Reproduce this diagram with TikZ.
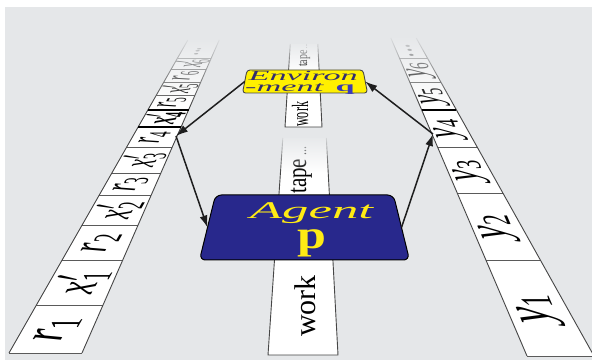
\documentclass[tikz,border=0pt]{standalone}
\usepackage{fontspec}
\setmainfont{Liberation Serif}
\usepackage{graphicx}
\usetikzlibrary{arrows.meta,fadings}
\definecolor{bggrey}{RGB}{229,231,233}
\definecolor{envyellow}{RGB}{255,240,0}
\definecolor{agentblue}{RGB}{40,40,140}
\definecolor{agentyellow}{RGB}{255,235,20}
\definecolor{envtextcol}{RGB}{50,45,110}
\definecolor{qblue}{RGB}{60,60,180}
\definecolor{edgegrey}{RGB}{70,70,70}
\definecolor{divgrey}{RGB}{90,90,90}
\definecolor{arrowgrey}{RGB}{30,30,30}
\tikzfading[name=fadetop, top color=transparent!0, bottom color=transparent!100]
\newcommand\tapeR[1]{\textit{r}\textsubscript{#1}}
\newcommand\tapeX[1]{\textit{x}\rlap{$^{\prime}$}\textsubscript{#1}}
\newcommand\tapeY[1]{\textit{y}\textsubscript{#1}}
\begin{document}
\begin{tikzpicture}[x=1pt,y=-1pt,
  declare function={LL(\v)=9+(353-\v)*0.5714; LR(\v)=82+(353-\v)*0.4383;
    RL(\v)=527-(356-\v)*0.4281; RR(\v)=594-(356-\v)*0.5591;
    ML(\v)=268+(355-\v)*0.0683; MR(\v)=338-(355-\v)*0.0537;
    UL(\v)=285+(127-\v)*0.0633; UR(\v)=322-(127-\v)*0.0506;},
  tapeedge/.style={draw=edgegrey, line width=0.9pt},
  tapediv/.style={draw=divgrey, line width=0.8pt},
  hicell/.style={draw=black, line width=1.5pt},
  lbl/.style={inner sep=0pt, font=\fontsize{10}{12}\selectfont},
  fadeover/.style={fill=bggrey, path fading=fadetop},
  arr/.style={draw=arrowgrey, line width=1.5pt, -{Latex[length=12pt,width=8pt]}},
  boxnode/.style={inner sep=0pt, outer sep=0pt},
  envbox/.style={fill=envyellow, draw=edgegrey, line width=0.9pt, rounded corners=3pt},
  agentbox/.style={fill=agentblue, draw=black, line width=1pt, rounded corners=6pt},
  worktext/.style={inner sep=0pt, anchor=base west, rotate=90}]

\useasboundingbox (0,0) rectangle (592,363);
\clip (0,0) rectangle (592,363);
\fill[white] (0,0) rectangle (592,363);
\fill[bggrey] (5,7) rectangle (592,360);

% ---------- left tape (percepts) ----------
\fill[white] ({LL(353)},353) -- ({LR(353)},353) -- ({LR(40)},40) -- ({LL(40)},40) -- cycle;
\foreach \v in {353,305,260,225,195,173,147,127,110,95,82,69,58}
  \draw[tapediv] ({LL(\v)},\v) -- ({LR(\v)},\v);
\draw[tapeedge] ({LL(40)},40) -- ({LL(353)},353);
\draw[tapeedge] ({LR(40)},40) -- ({LR(353)},353);
\draw[hicell] ({LL(127)},127) -- ({LR(127)},127) ({LL(110)},110) -- ({LR(110)},110);
\foreach \ya/\yb/\lab in {353/305/{\tapeR{1}}, 305/260/{\tapeX{1}}, 260/225/{\tapeR{2}},
    225/195/{\tapeX{2}}, 195/173/{\tapeR{3}}, 173/147/{\tapeX{3}}, 147/127/{\tapeR{4}},
    127/110/{\bfseries\tapeX{4}}, 110/95/{\tapeR{5}}, 95/82/{\tapeX{5}}, 82/69/{\tapeR{6}},
    69/58/{\tapeX{6}}, 58/45/{...}}{
  \pgfmathsetmacro\yc{(\ya+\yb)/2}
  \pgfmathsetmacro\xc{(LL(\yc)+LR(\yc))/2}
  \pgfmathsetmacro\sf{(\yc+180)/509}
  \pgfmathsetmacro\sa{3.7*\sf^1.5}
  \pgfmathsetmacro\ca{\sa*0.496}
  \pgfmathsetmacro\cb{\sa*0.868}
  \pgfmathsetmacro\cc{-6.2*\sf^0.7}
  \node[lbl, cm={\ca,\cb,\cc,0,(0,0)}] at (\xc,\yc) {\lab};
}

% ---------- right tape (actions) ----------
\fill[white] ({RL(356)},356) -- ({RR(356)},356) -- ({RR(38)},38) -- ({RL(38)},38) -- cycle;
\foreach \v in {356,260,193,147,110,82,58}
  \draw[tapediv] ({RL(\v)},\v) -- ({RR(\v)},\v);
\draw[tapeedge] ({RL(38)},38) -- ({RL(356)},356);
\draw[tapeedge] ({RR(38)},38) -- ({RR(356)},356);
\draw[hicell] ({RL(110)},110) -- ({RR(110)},110);
\foreach \ya/\yb/\lab in {356/260/{\tapeY{1}}, 260/193/{\tapeY{2}}, 193/147/{\tapeY{3}},
    147/110/{\tapeY{4}}, 110/82/{\tapeY{5}}, 82/58/{\tapeY{6}}, 58/43/{...}}{
  \pgfmathsetmacro\yc{(\ya+\yb)/2}
  \pgfmathsetmacro\xc{(RL(\yc)+RR(\yc))/2}
  \pgfmathsetmacro\sf{(\yc+180)/488}
  \pgfmathsetmacro\sa{4.0*\sf}
  \pgfmathsetmacro\ca{-\sa*0.394}
  \pgfmathsetmacro\cb{\sa*0.919}
  \pgfmathsetmacro\cc{-6.2*\sf^0.7}
  \node[lbl, cm={\ca,\cb,\cc,0,(0,0)}] at (\xc,\yc) {\lab};
}

% ---------- middle work tapes ----------
\fill[white] ({ML(355)},355) -- ({MR(355)},355) -- ({MR(138)},138) -- ({ML(138)},138) -- cycle;
\draw[tapeedge] ({ML(138)},138) -- ({ML(355)},355) -- ({MR(355)},355) -- ({MR(138)},138);
\node[worktext] (wlow) at (315,337) {\fontsize{30}{30}\selectfont work};
\node[worktext] (tlow) at (306,194) {\scalebox{1}[1.3]{\fontsize{21}{21}\selectfont tape\,{\fontsize{12}{12}\selectfont...}}};

\fill[white] ({UL(127)},127) -- ({UR(127)},127) -- ({UR(44)},44) -- ({UL(44)},44) -- cycle;
\draw[tapeedge] ({UL(44)},44) -- ({UL(127)},127) -- ({UR(127)},127) -- ({UR(44)},44);
\node[worktext] (wup) at (308,127) {\scalebox{0.87}[1.67]{\fontsize{14}{14}\selectfont work}};
\node[worktext] (tup) at (307,67) {\scalebox{1}[1.45]{\fontsize{10}{10}\selectfont tape\,{\fontsize{6}{6}\selectfont...}}};

% ---------- fading of far ends ----------
\fill[fadeover] (150,36) rectangle (240,104);
\fill[fadeover] (375,34) rectangle (470,104);
\fill[fadeover] (280,40) rectangle (330,72);
\fill[fadeover] (270,134) rectangle (335,172);

% ---------- boxes ----------
\node[boxnode, minimum width=120.5, minimum height=23] (env) at (305,81.5) {};
\draw[envbox] ([xshift=2.25]env.north west) -- ([xshift=-2.25]env.north east)
  -- ([xshift=2.25]env.south east) -- ([xshift=-2.25]env.south west) -- cycle;
\node[inner sep=0, anchor=base west, text=envtextcol, align=left,
      font=\fontsize{14}{10.5}\selectfont\itshape] (envtxt) at (245,91.5)
  {\hspace*{3.4pt}\scalebox{2.45}[1]{Environ}\\
   \scalebox{2.45}[1]{-ment\hspace{5pt}\textcolor{qblue}{\upshape\bfseries q}}};

\node[boxnode, minimum width=194, minimum height=65] (agent) at (304.5,227.5) {};
\draw[agentbox] ([xshift=8]agent.north west) -- ([xshift=-8]agent.north east)
  -- ([xshift=8]agent.south east) -- ([xshift=-8]agent.south west) -- cycle;
\node[inner sep=0, anchor=base, text=agentyellow, align=center,
      font=\fontsize{24}{30}\selectfont] (agtxt) at (311.5,249)
  {\scalebox{2.2}[1]{\itshape Agent}\\
   \scalebox{1.3}[1]{\fontsize{40}{40}\selectfont\bfseries p}};

% ---------- connectors ----------
\coordinate (lt) at (176,136);
\coordinate (rt) at (433,134);
\draw[arr] (env.west) -- (lt);
\draw[arr] (lt) -- (agent.west);
\draw[arr] (agent.east) -- (rt);
\draw[arr] (rt) -- (env.east);
\end{tikzpicture}
\end{document}
